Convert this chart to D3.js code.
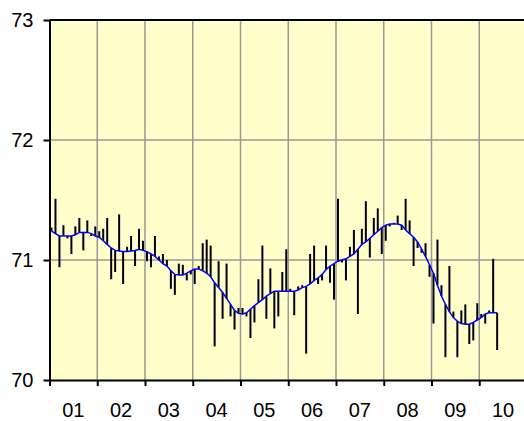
<!DOCTYPE html>
<html>
<head>
<meta charset="utf-8">
<script src="https://cdn.jsdelivr.net/npm/d3@7"></script>
<style>
  body { margin: 0; background: #fff; }
  svg text { font-family: "Liberation Sans", Arial, sans-serif; font-size: 20px; fill: #000; }
</style>
</head>
<body>
<div id="container"></div>
<script>
// year labels on the category axis, 12 months each
const years = ['01', '02', '03', '04', '05', '06', '07', '08', '09', '10']
const monthsPerYear = 12
const yTicks = [70, 71, 72, 73]

// monthly values (Jan 01 .. May 10)
const values = [
  71.27, 71.51, 70.94, 71.29, 71.18, 71.05, 71.28, 71.35, 71.08, 71.33, 71.20, 71.28,
  71.24, 71.26, 71.35, 70.84, 70.90, 71.38, 70.80, 71.11, 71.20, 70.95, 71.26, 71.16,
  70.99, 70.94, 71.20, 71.03, 71.05, 71.00, 70.76, 70.71, 70.97, 70.96, 70.83, 70.88,
  70.80, 70.95, 71.14, 71.17, 71.12, 70.28, 70.99, 70.51, 70.97, 70.53, 70.42, 70.60,
  70.60, 70.53, 70.35, 70.48, 70.84, 71.12, 70.51, 70.93, 70.43, 70.53, 70.90, 71.09,
  70.76, 70.54, 70.78, 70.79, 70.22, 71.05, 71.12, 70.80, 70.83, 71.12, 70.81, 70.67,
  71.51, 70.98, 70.83, 71.11, 71.25, 70.55, 71.26, 71.49, 71.02, 71.35, 71.43, 71.05,
  71.16, 71.28, 71.31, 71.37, 71.25, 71.51, 71.33, 70.95, 71.10, 71.06, 71.14, 70.86,
  70.47, 71.17, 70.79, 70.19, 70.95, 70.57, 70.19, 70.58, 70.63, 70.30, 70.33, 70.64,
  70.55, 70.47, 70.58, 71.01, 70.25
]

// smoothed trend
const trend = [
  71.24, 71.22, 71.20, 71.20, 71.20, 71.20, 71.21, 71.23, 71.23, 71.23, 71.22, 71.20,
  71.19, 71.16, 71.13, 71.10, 71.08, 71.075, 71.07, 71.07, 71.075, 71.08, 71.09, 71.08,
  71.07, 71.05, 71.03, 71.00, 70.97, 70.95, 70.91, 70.88, 70.875, 70.875, 70.89, 70.91,
  70.925, 70.925, 70.91, 70.89, 70.86, 70.81, 70.77, 70.73, 70.68, 70.63, 70.58, 70.555,
  70.55, 70.56, 70.59, 70.62, 70.645, 70.67, 70.70, 70.72, 70.74, 70.74, 70.74, 70.74,
  70.74, 70.74, 70.75, 70.77, 70.78, 70.80, 70.83, 70.85, 70.88, 70.92, 70.95, 70.97,
  70.99, 71.00, 71.01, 71.03, 71.05, 71.09, 71.13, 71.15, 71.18, 71.21, 71.24, 71.27,
  71.29, 71.30, 71.30, 71.30, 71.29, 71.25, 71.22, 71.19, 71.15, 71.09, 71.03, 70.96,
  70.89, 70.79, 70.70, 70.63, 70.57, 70.52, 70.49, 70.47, 70.465, 70.465, 70.48, 70.50,
  70.52, 70.55, 70.56, 70.56, 70.56
]

const w = 524
const h = 421
const margin = { left: 49.5, top: 20, bottom: 41 }
const plotW = 477.5 // runs past the right edge of the window
const slots = years.length * monthsPerYear

const x = d3.scaleLinear()
  .domain([0, slots])
  .range([margin.left, margin.left + plotW])

const y = d3.scaleLinear()
  .domain([70, 73])
  .range([h - margin.bottom, margin.top])

const svg = d3.select('#container')
  .append('svg')
  .attr('width', w)
  .attr('height', h)

//PLOT AREA
svg.append('rect')
  .attr('x', x(0))
  .attr('y', y(73))
  .attr('width', plotW)
  .attr('height', y(70) - y(73))
  .attr('fill', '#ffffcc')

//GRID
const yearStarts = d3.range(0, slots + 1, monthsPerYear)

svg.selectAll('.vgrid')
  .data(yearStarts.slice(1))
  .enter()
  .append('line')
  .attr('class', 'vgrid')
  .attr('x1', d => x(d))
  .attr('x2', d => x(d))
  .attr('y1', y(73))
  .attr('y2', y(70))
  .attr('stroke', '#999')
  .attr('stroke-width', 1.5)

svg.selectAll('.hgrid')
  .data([71, 72])
  .enter()
  .append('line')
  .attr('class', 'hgrid')
  .attr('x1', x(0))
  .attr('x2', x(slots))
  .attr('y1', d => y(d))
  .attr('y2', d => y(d))
  .attr('stroke', '#999')
  .attr('stroke-width', 1.5)

// top border
svg.append('line')
  .attr('x1', x(0))
  .attr('x2', x(slots))
  .attr('y1', y(73))
  .attr('y2', y(73))
  .attr('stroke', '#000')
  .attr('stroke-width', 2)

//HIGH-LOW LINES between value and trend
svg.selectAll('.hl')
  .data(values)
  .enter()
  .append('line')
  .attr('class', 'hl')
  .attr('x1', (d, i) => x(i + 0.5))
  .attr('x2', (d, i) => x(i + 0.5))
  .attr('y1', d => y(d))
  .attr('y2', (d, i) => y(trend[i]))
  .attr('stroke', '#000')
  .attr('stroke-width', 2)

//TREND LINE
const line = d3.line()
  .x((d, i) => x(i + 0.5))
  .y(d => y(d))

svg.append('path')
  .datum(trend)
  .attr('d', line)
  .attr('fill', 'none')
  .attr('stroke', '#0000ff')
  .attr('stroke-width', 1.5)

//AXES
const yAxis = svg.append('g')
  .attr('transform', `translate(${x(0)},0)`)
  .call(d3.axisLeft(y)
    .tickValues(yTicks)
    .tickFormat(d3.format('d'))
    .tickSize(6)
    .tickSizeOuter(0)
    .tickPadding(10))

const xAxis = svg.append('g')
  .attr('transform', `translate(0,${y(70)})`)
  .call(d3.axisBottom(x)
    .tickValues(yearStarts)
    .tickFormat('')
    .tickSize(6)
    .tickSizeOuter(0))

svg.selectAll('.domain, .tick line')
  .attr('stroke', '#000')
  .attr('stroke-width', 2)

yAxis.selectAll('text')
  .style('font-size', '20px')
  .style('font-family', '"Liberation Sans", Arial, sans-serif')

//YEAR LABELS centred under each year
svg.selectAll('.yearLabel')
  .data(years)
  .enter()
  .append('text')
  .attr('class', 'yearLabel')
  .attr('x', (d, i) => x(i * monthsPerYear + monthsPerYear / 2))
  .attr('y', 410)
  .attr('dy', '0.35em')
  .attr('text-anchor', 'middle')
  .text(d => d)
</script>
</body>
</html>
